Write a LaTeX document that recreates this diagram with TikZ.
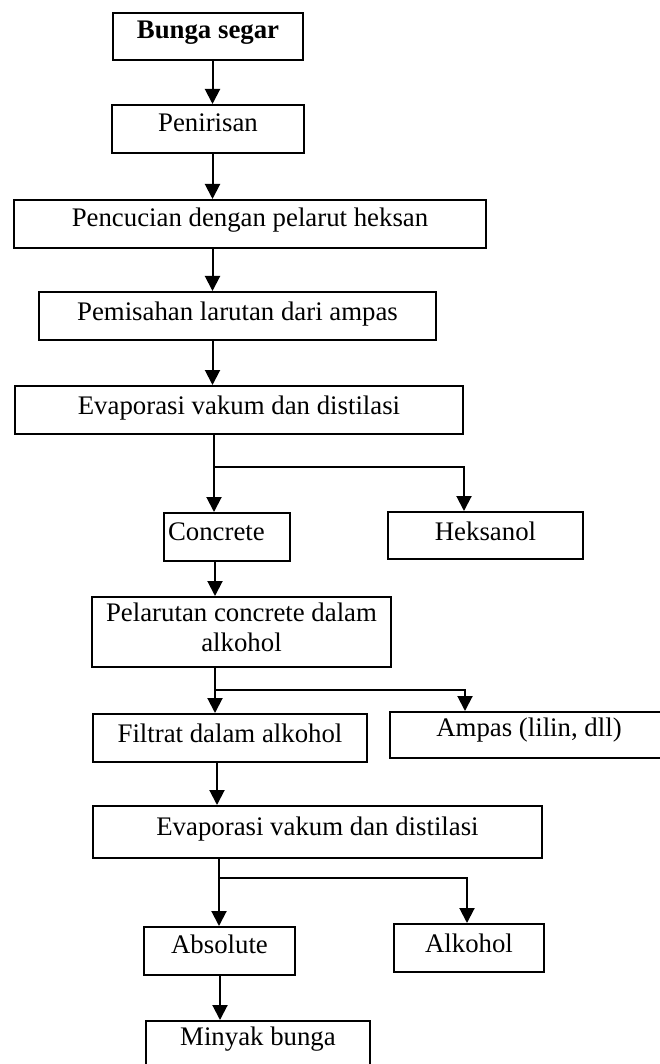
\documentclass[tikz,border=0pt]{standalone}
\usepackage{fontspec}
\setmainfont{Liberation Serif}
\usetikzlibrary{arrows.meta}
\begin{document}
\begin{tikzpicture}[x=1pt,y=-1pt,
  frame/.style={draw, line width=2pt, inner sep=0pt, font=\fontsize{26.8}{30}\selectfont},
  box/.style={frame, text height=18pt, text depth=10pt},
  conn/.style={line width=2pt},
  arr/.style={conn, -{Triangle[width=15pt,length=15pt]}}]
\useasboundingbox (0,0) rectangle (660,1064);
% boxes
\node[box, minimum width=190pt, minimum height=47pt, text depth=13pt] (n1) at (208,36.5) {\textbf{Bunga segar}};
\node[box, minimum width=192pt, minimum height=48pt, text depth=12pt] (n2) at (208,129) {Penirisan};
\node[box, minimum width=472pt, minimum height=48pt, text depth=12pt] (n3) at (250,224) {Pencucian dengan pelarut heksan};
\node[box, minimum width=397pt, minimum height=48pt] (n4) at (237.5,316) {Pemisahan larutan dari ampas};
\node[box, minimum width=448pt, minimum height=48pt] (n5) at (239,410) {Evaporasi vakum dan distilasi};
\node[box, minimum width=126pt, minimum height=48pt, text depth=12pt, inner xsep=4pt] (n6) at (227,537) {\makebox[118pt][l]{Concrete}};
\node[box, minimum width=195pt, minimum height=47pt, text depth=9pt] (n7) at (485.5,535.5) {Heksanol};
\node[frame, minimum width=299pt, minimum height=70pt, align=center] (n8) at (241.5,632) {Pelarutan concrete dalam\\alkohol\rule[-10pt]{0pt}{10pt}};
\node[box, minimum width=274pt, minimum height=48pt] (n9) at (230,738) {Filtrat dalam alkohol};
\node[box, minimum width=278pt, minimum height=46pt, text depth=16pt] (n10) at (529,735) {Ampas (lilin, dll)};
\node[box, minimum width=449pt, minimum height=52pt, text depth=12pt] (n11) at (317.5,832) {Evaporasi vakum dan distilasi};
\node[box, minimum width=151pt, minimum height=48pt, text depth=14pt] (n12) at (219.5,951) {Absolute};
\node[box, minimum width=150pt, minimum height=48pt] (n13) at (469,948) {Alkohol};
\node[box, minimum width=224pt, minimum height=48pt, text depth=18pt] (n14) at (258,1045) {Minyak bunga};
% connector x positions and junctions
\coordinate (xa) at (212.5,0);
\coordinate (xb) at (214,0);
\coordinate (xh) at (464,0);
\coordinate (j1) at (214,467);
\coordinate (xc) at (215,0);
\coordinate (xi) at (465,0);
\coordinate (j2) at (215,690);
\coordinate (xd) at (217,0);
\coordinate (xe) at (219,0);
\coordinate (xf) at (467,0);
\coordinate (j3) at (219,878);
\coordinate (xg) at (220,0);
% connectors
\draw[arr] (n1.south -| xa) -- (n2.north -| xa);
\draw[arr] (n2.south -| xa) -- (n3.north -| xa);
\draw[arr] (n3.south -| xa) -- (n4.north -| xa);
\draw[arr] (n4.south -| xa) -- (n5.north -| xa);
\draw[arr] (n5.south -| xb) -- (n6.north -| xb);
\draw[arr] (j1) -| (n7.north -| xh);
\draw[arr] (n6.south -| xc) -- (n8.north -| xc);
\draw[arr] (n8.south -| xc) -- (n9.north -| xc);
\draw[arr] (j2) -| (n10.north -| xi);
\draw[arr] (n9.south -| xd) -- (n11.north -| xd);
\draw[arr] (n11.south -| xe) -- (n12.north -| xe);
\draw[arr] (j3) -| (n13.north -| xf);
\draw[arr] (n12.south -| xg) -- (n14.north -| xg);
\end{tikzpicture}
\end{document}
